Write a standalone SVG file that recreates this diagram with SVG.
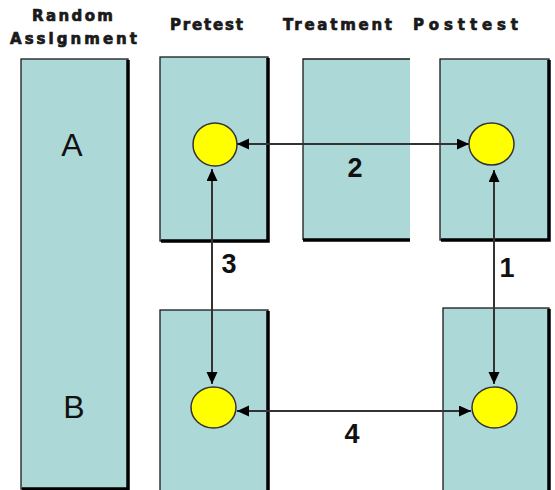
<svg xmlns="http://www.w3.org/2000/svg" width="555" height="490" viewBox="0 0 555 490">
  <style>
    .box { fill: #acd8d8; stroke: #1a1a1a; stroke-width: 1.3; }
    .shadow { stroke: #000; stroke-width: 3.5; fill: none; }
    .dot { fill: #ffff00; stroke: #333; stroke-width: 1.5; }
    .head { font-family: "DejaVu Sans", "Liberation Sans", sans-serif; font-weight: bold; font-size: 15px; fill: #1a1a1a; stroke: #1a1a1a; stroke-width: 0.7; }
    .grp { font-family: "Liberation Sans", Arial, sans-serif; font-size: 32px; fill: #111; text-anchor: middle; }
    .num { font-family: "Liberation Sans", Arial, sans-serif; font-weight: bold; font-size: 27px; fill: #111; text-anchor: middle; }
    .link { stroke: #333; stroke-width: 2; fill: none; marker-start: url(#tip); marker-end: url(#tip); }
  </style>
  <defs>
    <marker id="tip" markerUnits="userSpaceOnUse" markerWidth="13" markerHeight="12" refX="12" refY="5.5" orient="auto-start-reverse">
      <path d="M0,0 L12,5.5 L0,11 z" fill="#000"/>
    </marker>
  </defs>

  <rect width="555" height="490" fill="#fff"/>

  <!-- column headings -->
  <g id="headings">
    <text class="head" x="32" y="21" textLength="81" lengthAdjust="spacing">Random</text>
    <text class="head" x="10" y="44" textLength="127" lengthAdjust="spacing">Assignment</text>
    <text class="head" x="170" y="30" textLength="73" lengthAdjust="spacing">Pretest</text>
    <text class="head" x="283" y="30" textLength="109" lengthAdjust="spacing">Treatment</text>
    <text class="head" x="413" y="30" textLength="105" lengthAdjust="spacing">Posttest</text>
  </g>

  <!-- random assignment column -->
  <g id="assignment">
    <rect class="box" x="21" y="59" width="107" height="430"/>
    <path class="shadow" d="M128,60 V489 H22"/>
    <text class="grp" x="72" y="156">A</text>
    <text class="grp" x="74" y="418">B</text>
  </g>

  <g id="pretest-a">
    <rect class="box" x="160" y="57" width="108" height="184"/>
    <path class="shadow" d="M268,58 V241 H161"/>
    <ellipse class="dot" cx="215" cy="144.5" rx="22" ry="21.5"/>
  </g>

  <g id="treatment">
    <path d="M303,59 H410 V240 H303 Z" fill="#acd8d8"/>
    <path d="M410,59 H303 V240" fill="none" stroke="#1a1a1a" stroke-width="1.3"/>
    <path class="shadow" d="M303,240 H410"/>
  </g>

  <g id="posttest-a">
    <rect class="box" x="440" y="59" width="109" height="181"/>
    <path class="shadow" d="M549,60 V240 H441"/>
    <ellipse class="dot" cx="491.5" cy="144" rx="22.5" ry="21"/>
  </g>

  <g id="pretest-b">
    <rect class="box" x="160" y="310" width="108" height="185"/>
    <path class="shadow" d="M268,311 V495"/>
    <ellipse class="dot" cx="213.5" cy="407.5" rx="22.5" ry="20.5"/>
  </g>

  <g id="posttest-b">
    <rect class="box" x="443" y="308" width="106" height="187"/>
    <path class="shadow" d="M549,309 V495"/>
    <ellipse class="dot" cx="494.5" cy="407.5" rx="22.5" ry="20.5"/>
  </g>

  <!-- comparisons -->
  <g id="connectors">
    <line class="link" x1="237" y1="144" x2="469" y2="144"/>
    <line class="link" x1="212" y1="169" x2="212" y2="384"/>
    <line class="link" x1="494" y1="170" x2="494" y2="384"/>
    <line class="link" x1="237" y1="411" x2="471" y2="411"/>
    <text class="num" x="355" y="177">2</text>
    <text class="num" x="229" y="273">3</text>
    <text class="num" x="507" y="277">1</text>
    <text class="num" x="352" y="443">4</text>
  </g>
</svg>
